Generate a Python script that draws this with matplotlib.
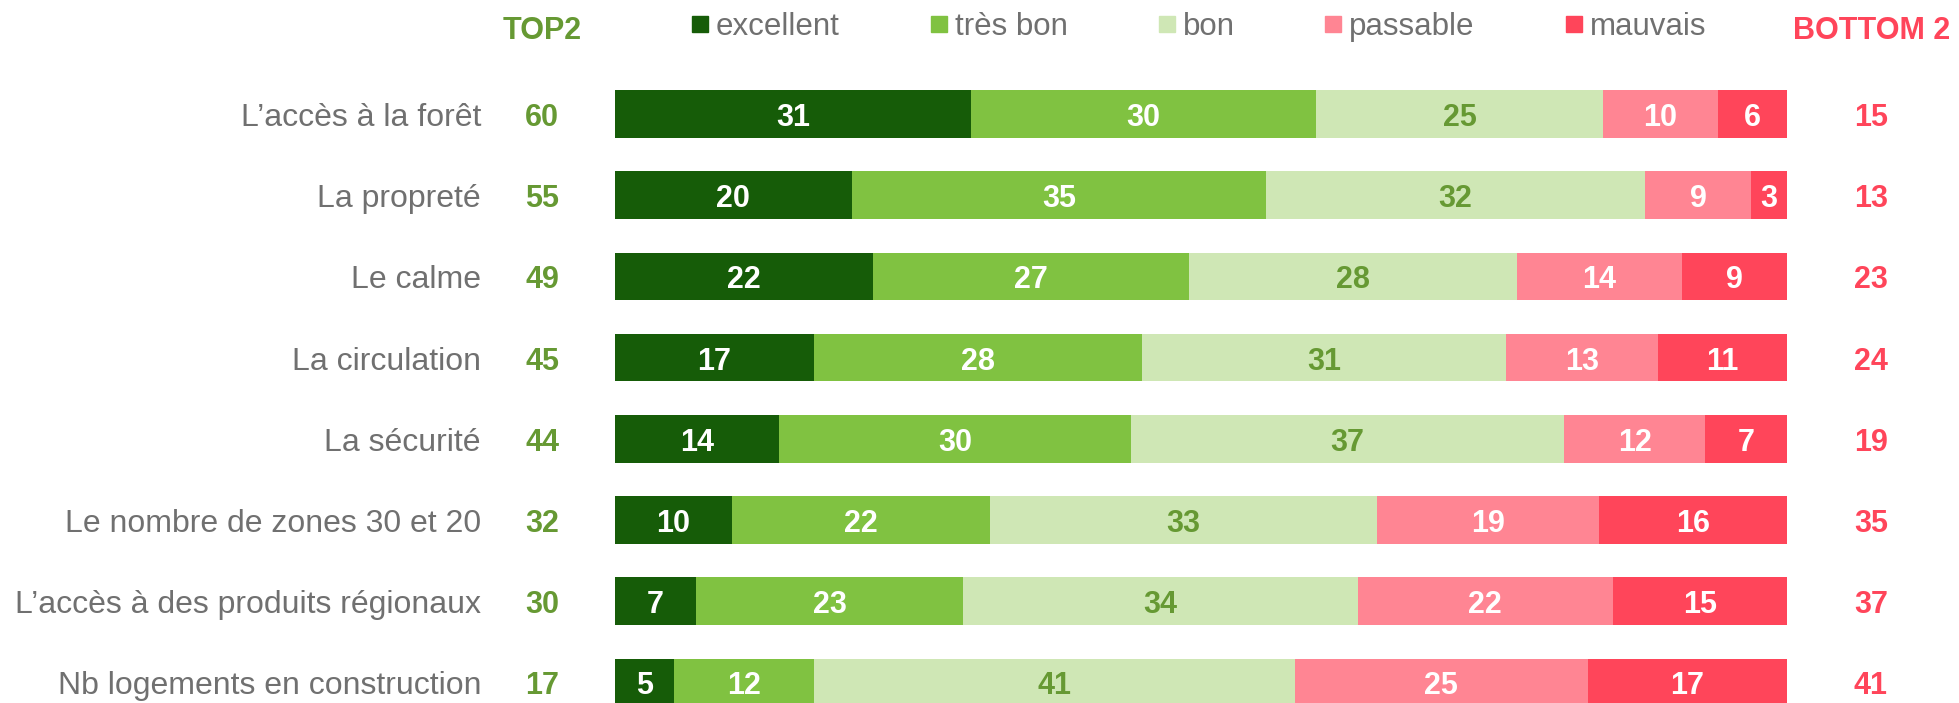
import matplotlib
matplotlib.use("Agg")
import matplotlib.pyplot as plt
from matplotlib.transforms import blended_transform_factory
from matplotlib.patches import Rectangle

plt.rcParams['font.family'] = ['Liberation Sans', 'DejaVu Sans']

categories = ["L’accès à la forêt", "La propreté", "Le calme", "La circulation",
              "La sécurité", "Le nombre de zones 30 et 20",
              "L’accès à des produits régionaux", "Nb logements en construction"]
series_names = ["excellent", "très bon", "bon", "passable", "mauvais"]
excellent = [31, 20, 22, 17, 14, 10, 7, 5]
tres_bon = [30, 35, 27, 28, 30, 22, 23, 12]
bon = [25, 32, 28, 31, 37, 33, 34, 41]
passable = [10, 9, 14, 13, 12, 19, 22, 25]
mauvais = [6, 3, 9, 11, 7, 16, 15, 17]
top2 = [60, 55, 49, 45, 44, 32, 30, 17]
bottom2 = [15, 13, 23, 24, 19, 35, 37, 41]

colors = ["#165c08", "#80c241", "#cfe7b5", "#ff8593", "#ff455a"]
label_colors = ["white", "white", "#669933", "white", "white"]
green_txt = "#669933"
red_txt = "#ff455a"
grey_txt = "#707070"

W, H = 1959, 703
fig = plt.figure(figsize=(W / 100, H / 100), dpi=100)
x0, x1 = 615, 1787
ax = fig.add_axes([x0 / W, 0, (x1 - x0) / W, 1])
pitch = 81.2
c0 = 114
ax.set_ylim((H - c0) / pitch, -c0 / pitch)
ax.set_xlim(0, 100)
ax.axis('off')

series = [excellent, tres_bon, bon, passable, mauvais]
n = len(categories)
bh = 47.5 / pitch
base_off = 12 / pitch
fs = 22

for i in range(n):
    tot = sum(s[i] for s in series)
    left = 0.0
    for k, s in enumerate(series):
        w = s[i] / tot * 100
        ax.barh(i, w, left=left, height=bh, color=colors[k], edgecolor='none')
        ax.text(left + w / 2, i + base_off, str(s[i]), ha='center', va='baseline',
                color=label_colors[k], fontsize=fs, fontweight='bold')
        left += w

tr = blended_transform_factory(fig.transFigure, ax.transData)
for i in range(n):
    ax.text(481 / W, i + base_off, categories[i], transform=tr, ha='right', va='baseline',
            color=grey_txt, fontsize=23)
    ax.text(542 / W, i + base_off, str(top2[i]), transform=tr, ha='center', va='baseline',
            color=green_txt, fontsize=fs, fontweight='bold')
    ax.text(1871 / W, i + base_off, str(bottom2[i]), transform=tr, ha='center', va='baseline',
            color=red_txt, fontsize=fs, fontweight='bold')

# header
fig.text(542 / W, 1 - 39 / H, "TOP2", ha='center', va='baseline', color=green_txt,
         fontsize=fs, fontweight='bold')
fig.text(1872 / W, 1 - 39 / H, "BOTTOM 2", ha='center', va='baseline', color=red_txt,
         fontsize=fs, fontweight='bold')

# legend
sq_x = [692, 931, 1159, 1325, 1566]
for k, name in enumerate(series_names):
    fig.patches.append(Rectangle((sq_x[k] / W, 1 - 32 / H), 16 / W, 16 / H,
                                 transform=fig.transFigure, color=colors[k], figure=fig))
    fig.text((sq_x[k] + 24) / W, 1 - 35 / H, name, ha='left', va='baseline',
             color=grey_txt, fontsize=22.5)

fig.savefig("out.png", dpi=100, facecolor='white')
